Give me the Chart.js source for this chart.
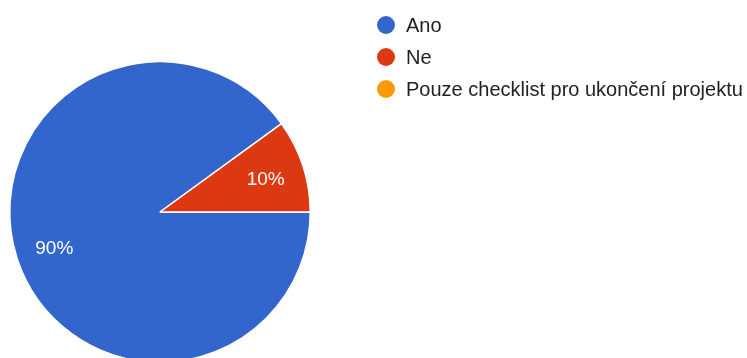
<!DOCTYPE html>
<html>
<head>
<meta charset="utf-8">
<script src="https://cdn.jsdelivr.net/npm/chart.js@4"></script>
<style>
  html, body { margin: 0; padding: 0; background: #fff; overflow: hidden; }
  #wrap { position: relative; width: 747px; height: 358px; overflow: hidden; }
  #chart { position: absolute; left: 0; top: 0; }
  #legend { position: absolute; left: 377px; top: 9px; font-family: Arial, "Liberation Sans", sans-serif; font-size: 20px; color: #222; }
  #legend .item { height: 32px; display: flex; align-items: center; }
  #legend .dot { width: 18px; height: 18px; border-radius: 50%; margin-right: 11px; }
</style>
</head>
<body>
<div id="wrap">
  <canvas id="chart" width="747" height="372"></canvas>
  <div id="legend"></div>
</div>
<script>
const labels = ['Ano', 'Ne', 'Pouze checklist pro ukončení projektu'];
const values = [90, 10, 0];
const colors = ['#3366cc', '#dc3912', '#ff9900'];

// percent labels inside the slices
const sliceLabels = {
  id: 'sliceLabels',
  afterDatasetsDraw(chart) {
    const ctx = chart.ctx;
    const total = values.reduce((a, b) => a + b, 0);
    chart.getDatasetMeta(0).data.forEach((arc, i) => {
      if (!values[i]) return;
      const mid = (arc.startAngle + arc.endAngle) / 2;
      const r = arc.outerRadius * 0.74;
      ctx.save();
      ctx.fillStyle = '#fff';
      ctx.font = '19px Arial, "Liberation Sans", sans-serif';
      ctx.textAlign = 'center';
      ctx.textBaseline = 'middle';
      ctx.fillText(Math.round(values[i] / total * 100) + '%', arc.x + Math.cos(mid) * r, arc.y + Math.sin(mid) * r + 2);
      ctx.restore();
    });
  },
};

new Chart(document.getElementById('chart'), {
  type: 'pie',
  data: {
    labels,
    datasets: [{ data: values, backgroundColor: colors, borderColor: '#fff', borderWidth: 1.5 }],
  },
  options: {
    responsive: false,
    animation: false,
    rotation: 90,
    layout: { padding: { left: 9, top: 61, right: 436, bottom: 9 } },
    plugins: { legend: { display: false }, tooltip: { enabled: false } },
  },
  plugins: [sliceLabels],
});

document.getElementById('legend').innerHTML = labels.map((l, i) =>
  `<div class="item"><span class="dot" style="background:${colors[i]}"></span>${l}</div>`).join('');
</script>
</body>
</html>
